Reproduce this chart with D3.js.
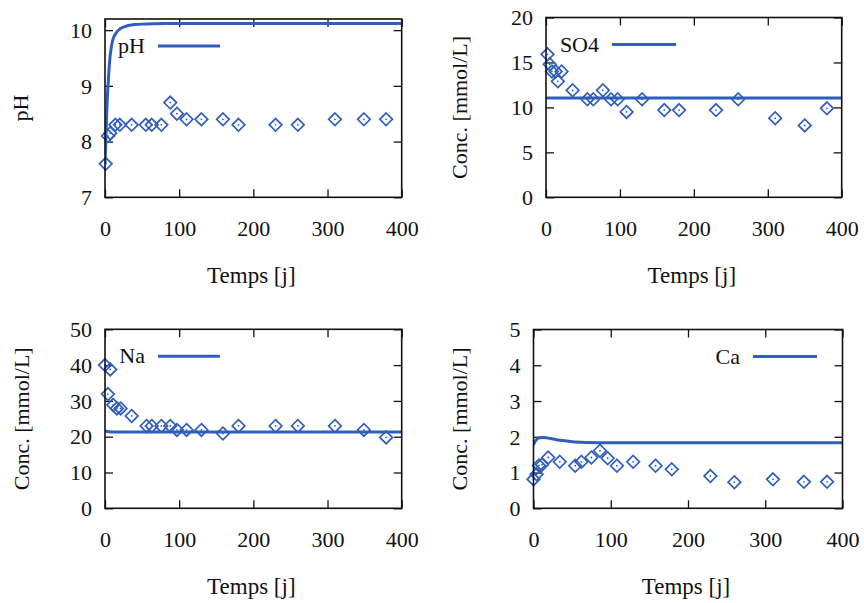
<!DOCTYPE html>
<html>
<head>
<meta charset="utf-8">
<script src="https://cdn.jsdelivr.net/npm/d3@7"></script>
<style>
  html, body { margin: 0; padding: 0; background: #fff; }
  svg { display: block; }
  text { font-family: "Liberation Serif", "Times New Roman", serif; fill: #111; }
</style>
</head>
<body>
<svg id="chart" width="864" height="603"></svg>
<script>
// ---- Data ----
const xTicks = [0, 100, 200, 300, 400];

// pH
const phDays = [1, 4, 7, 14, 20, 36, 55, 63, 76, 88, 97, 110, 130, 159, 180, 230, 260, 310, 349, 379];
const phObs  = [7.6, 8.1, 8.15, 8.3, 8.3, 8.3, 8.3, 8.3, 8.3, 8.7, 8.5, 8.4, 8.4, 8.4, 8.3, 8.3, 8.3, 8.4, 8.4, 8.4];
const phModelT = [0, 1, 2, 3, 4.5, 6, 8, 10, 15, 20, 28, 40, 55, 80, 400];
const phModel  = [7.6, 8.0, 8.4, 8.75, 9.1, 9.4, 9.65, 9.8, 9.95, 10.02, 10.07, 10.1, 10.11, 10.12, 10.12];
const phTicks = [7, 8, 9, 10];

// SO4
const so4Days = [2, 5, 8, 13, 16, 21, 36, 56, 64, 77, 88, 97, 109, 130, 160, 180, 230, 260, 310, 350, 380];
const so4Obs  = [15.9, 14.8, 14.0, 14.0, 12.9, 14.0, 11.9, 10.9, 10.9, 11.9, 10.9, 10.9, 9.5, 10.9, 9.7, 9.7, 9.7, 10.9, 8.8, 8.0, 9.9];
const so4ModelT = [0, 400];
const so4Model  = [11.05, 11.05];
const so4Ticks = [0, 5, 10, 15, 20];

// Na
const naDays = [0, 7, 4, 11, 16, 21, 36, 56, 63, 76, 88, 97, 110, 130, 159, 180, 230, 260, 310, 349, 379];
const naObs  = [40.0, 38.8, 31.9, 28.9, 27.9, 27.9, 25.8, 23.0, 23.0, 23.0, 23.0, 21.9, 21.9, 21.9, 20.9, 23.0, 23.0, 23.0, 23.0, 21.9, 19.8];
const naModelT = [0, 5, 15, 400];
const naModel  = [21.6, 21.4, 21.3, 21.3];
const naTicks = [0, 10, 20, 30, 40, 50];

// Ca
const caDays = [0, 4, 7, 11, 19, 34, 54, 62, 75, 86, 96, 108, 129, 158, 179, 229, 260, 310, 350, 380];
const caObs  = [0.81, 0.95, 1.2, 1.22, 1.42, 1.3, 1.19, 1.3, 1.42, 1.61, 1.4, 1.19, 1.3, 1.19, 1.09, 0.9, 0.73, 0.81, 0.74, 0.74];
const caModelT = [0, 3, 8, 14, 22, 35, 50, 70, 100, 400];
const caModel  = [1.78, 1.9, 1.97, 1.98, 1.95, 1.9, 1.86, 1.84, 1.83, 1.83];
const caTicks = [0, 1, 2, 3, 4, 5];

// ---- Drawing ----
const BLUE = "#2f5fbb";
const svg = d3.select("#chart");
const FS = 22;
const FONT = "'Liberation Serif', 'Times New Roman', serif";

function styleAxis(gAx) {
  gAx.attr("font-family", null).attr("font-size", null);
  gAx.select(".domain").remove();
  gAx.selectAll("line").attr("stroke", "#111").attr("stroke-width", 1.3);
}

function panel(cfg) {
  const g = svg.append("g");
  const x = d3.scaleLinear().domain([0, 400]).range([cfg.left, cfg.right]);
  const y = d3.scaleLinear().domain(cfg.yDomain).range([cfg.bottom, cfg.top]);
  const tl = 8;

  // ticks (inward, mirrored) via d3 axes
  const axB = d3.axisBottom(x).tickValues(xTicks).tickSizeInner(-tl).tickSizeOuter(0).tickFormat(d3.format("d"));
  const gB = g.append("g").attr("transform", `translate(0,${cfg.bottom})`).call(axB);
  styleAxis(gB);
  gB.selectAll("text").attr("y", 38.5).attr("dy", null)
    .attr("font-family", FONT).style("font-family", FONT).style("font-size", FS + "px").attr("fill", "#111");

  const axT = d3.axisTop(x).tickValues(xTicks).tickSizeInner(-tl).tickSizeOuter(0).tickFormat("");
  const gT = g.append("g").attr("transform", `translate(0,${cfg.top})`).call(axT);
  styleAxis(gT);

  const axL = d3.axisLeft(y).tickValues(cfg.yTicks).tickSizeInner(-tl).tickSizeOuter(0).tickFormat(d3.format("d"));
  const gL = g.append("g").attr("transform", `translate(${cfg.left},0)`).call(axL);
  styleAxis(gL);
  gL.selectAll("text").attr("x", -13).attr("dy", "0.33em").attr("text-anchor", "end")
    .attr("font-family", FONT).style("font-family", FONT).style("font-size", FS + "px").attr("fill", "#111");

  const axR = d3.axisRight(y).tickValues(cfg.yTicks).tickSizeInner(-tl).tickSizeOuter(0).tickFormat("");
  const gR = g.append("g").attr("transform", `translate(${cfg.right},0)`).call(axR);
  styleAxis(gR);

  // clip
  const cid = "clip" + cfg.id;
  svg.append("clipPath").attr("id", cid).append("rect")
    .attr("x", cfg.left).attr("y", cfg.top).attr("width", cfg.right - cfg.left).attr("height", cfg.bottom - cfg.top);

  // model line
  const line = d3.line().x(d => x(d[0])).y(d => y(d[1])).curve(d3.curveMonotoneX);
  const mdata = cfg.modelT.map((t, i) => [t, cfg.model[i]]);
  g.append("path").attr("d", line(mdata)).attr("fill", "none").attr("stroke", BLUE)
    .attr("stroke-width", 3).attr("clip-path", `url(#${cid})`);

  // observed diamonds
  const pts = cfg.days.map((t, i) => [t, cfg.obs[i]]);
  const r = 6.3;
  const pg = g.append("g");
  pg.selectAll("path.pt").data(pts).enter().append("path")
    .attr("class", "pt")
    .attr("d", d => `M${x(d[0])},${y(d[1]) - r}L${x(d[0]) + r},${y(d[1])}L${x(d[0])},${y(d[1]) + r}L${x(d[0]) - r},${y(d[1])}Z`)
    .attr("fill", "none").attr("stroke", BLUE).attr("stroke-width", 1.7);
  pg.selectAll("circle").data(pts).enter().append("circle")
    .attr("cx", d => x(d[0])).attr("cy", d => y(d[1])).attr("r", 0.9).attr("fill", BLUE);

  // frame
  g.append("rect").attr("x", cfg.left).attr("y", cfg.top)
    .attr("width", cfg.right - cfg.left).attr("height", cfg.bottom - cfg.top)
    .attr("fill", "none").attr("stroke", "#111").attr("stroke-width", 1.6);

  // legend
  const ly = cfg.top + 27;
  g.append("line").attr("x1", cfg.legX1).attr("x2", cfg.legX2).attr("y1", ly).attr("y2", ly)
    .attr("stroke", BLUE).attr("stroke-width", 3);
  g.append("text").attr("x", cfg.legX1 - 13).attr("y", ly + 7).attr("text-anchor", "end")
    .style("font-size", FS + "px").text(cfg.legend);

  // axis titles
  g.append("text").attr("x", (cfg.left + cfg.right) / 2 - 2).attr("y", cfg.bottom + 85.5)
    .attr("text-anchor", "middle").style("font-size", "23px").text("Temps [j]");
  g.append("text").attr("transform", `translate(${cfg.ylabX},${(cfg.top + cfg.bottom) / 2}) rotate(-90)`)
    .attr("text-anchor", "middle").style("font-size", FS + "px").text(cfg.ylabel);
}

panel({ id: 1, left: 105, right: 401.7, top: 19, bottom: 197.3, yDomain: [7, 10.2], yTicks: phTicks,
  days: phDays, obs: phObs, modelT: phModelT, model: phModel,
  legend: "pH", legX1: 158, legX2: 220, ylabel: "pH", ylabX: 28 });
panel({ id: 2, left: 546, right: 841.7, top: 17.5, bottom: 197.3, yDomain: [0, 20], yTicks: so4Ticks,
  days: so4Days, obs: so4Obs, modelT: so4ModelT, model: so4Model,
  legend: "SO4", legX1: 612, legX2: 676, ylabel: "Conc. [mmol/L]", ylabX: 467 });
panel({ id: 3, left: 105, right: 401.7, top: 329.3, bottom: 508.3, yDomain: [0, 50], yTicks: naTicks,
  days: naDays, obs: naObs, modelT: naModelT, model: naModel,
  legend: "Na", legX1: 158, legX2: 220, ylabel: "Conc. [mmol/L]", ylabX: 29 });
panel({ id: 4, left: 533.5, right: 842.5, top: 329.5, bottom: 508.3, yDomain: [0, 5], yTicks: caTicks,
  days: caDays, obs: caObs, modelT: caModelT, model: caModel,
  legend: "Ca", legX1: 753, legX2: 817, ylabel: "Conc. [mmol/L]", ylabX: 467 });
</script>
</body>
</html>
